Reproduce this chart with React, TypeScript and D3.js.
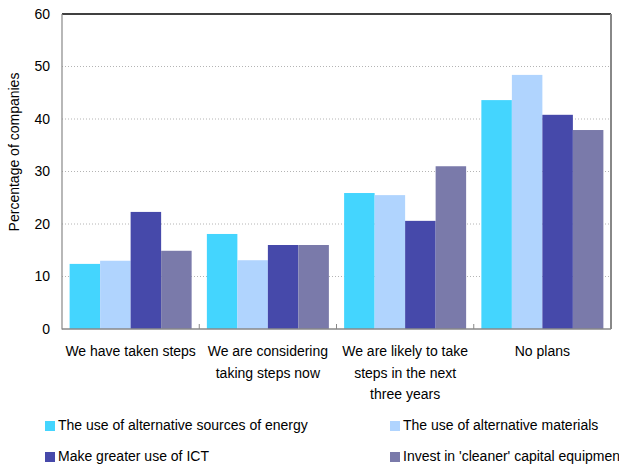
import React from "react";
import * as d3 from "d3";

// Survey categories (x axis) and their wrapped label lines
const categories = ["taken", "considering", "likely", "none"];
const categoryLabels = [
  ["We have taken steps"],
  ["We are considering", "taking steps now"],
  ["We are likely to take", "steps in the next", "three years"],
  ["No plans"],
];

// Series names, in legend order
const seriesNames = [
  "The use of alternative sources of energy",
  "The use of alternative materials",
  "Make greater use of ICT",
  "Invest in 'cleaner' capital equipment",
];

// Percentage of companies per series, one value per category
const energyValues = [12.4, 18.1, 25.9, 43.6];
const materialsValues = [13.0, 13.1, 25.5, 48.4];
const ictValues = [22.3, 16.0, 20.6, 40.8];
const equipmentValues = [14.9, 16.0, 31.0, 37.9];

const yTicks = [0, 10, 20, 30, 40, 50, 60];

const seriesValues = [energyValues, materialsValues, ictValues, equipmentValues];
const colors = ["#44D5FE", "#B0D4FE", "#4649AA", "#7A7AAA"];

const W = 619;
const H = 464;
const left = 62;
const right = 611;
const top = 14;
const bottom = 329;
const font = "'Liberation Sans', Arial, sans-serif";

export default function App() {
  const x0 = d3
    .scaleBand<string>()
    .domain(categories)
    .range([left, right])
    .paddingInner(0.111)
    .paddingOuter(0.0555);
  const x1 = d3
    .scaleBand<number>()
    .domain(d3.range(seriesNames.length))
    .range([0, x0.bandwidth()]);
  const y = d3.scaleLinear().domain([0, 60]).range([bottom, top]);
  const step = x0.step();
  const boundaries = d3.range(1, categories.length).map((i) => left + i * step);

  const legendItems = [
    { x: 45, y: 421 },
    { x: 390, y: 421 },
    { x: 45, y: 452 },
    { x: 390, y: 452 },
  ];

  return (
    <svg
      width={W}
      height={H}
      style={{ position: "fixed", left: 0, top: 0, display: "block", background: "#fff" }}
      fontFamily={font}
    >
      {/* dotted gridlines */}
      {yTicks
        .filter((t) => t > 0 && t < 60)
        .map((t) => (
          <line
            key={t}
            x1={left}
            x2={right}
            y1={y(t)}
            y2={y(t)}
            stroke="#b4b4b4"
            strokeWidth={1}
            strokeDasharray="1 2"
          />
        ))}

      {/* bars */}
      {categories.map((c, ci) => (
        <g key={c} transform={`translate(${x0(c)},0)`}>
          {seriesValues.map((vals, si) => (
            <rect
              key={si}
              x={x1(si)}
              y={y(vals[ci])}
              width={x1.bandwidth()}
              height={bottom - y(vals[ci])}
              fill={colors[si]}
            />
          ))}
        </g>
      ))}

      {/* frame */}
      <line x1={left} x2={right} y1={top} y2={top} stroke="#000" strokeWidth={1.5} />
      <line x1={right} x2={right} y1={top} y2={bottom} stroke="#888" strokeWidth={2} />
      <line x1={left} x2={left} y1={top} y2={bottom + 0.5} stroke="#888" strokeWidth={1.2} />
      <line x1={left} x2={right} y1={bottom} y2={bottom} stroke="#888" strokeWidth={1.5} />
      {boundaries.map((b, i) => (
        <line key={i} x1={b} x2={b} y1={bottom} y2={bottom - 5} stroke="#888" strokeWidth={1} />
      ))}

      {/* y tick labels */}
      {yTicks.map((t) => (
        <text
          key={t}
          x={50}
          y={y(t)}
          dy="0.35em"
          textAnchor="end"
          fontSize={14}
          fill="#000"
        >
          {t}
        </text>
      ))}

      {/* y axis title */}
      <text
        transform={`translate(19,152) rotate(-90)`}
        textAnchor="middle"
        fontSize={14}
        fill="#000"
      >
        Percentage of companies
      </text>

      {/* category labels */}
      {categories.map((c, ci) => (
        <text
          key={c}
          x={(x0(c) ?? 0) + x0.bandwidth() / 2}
          y={356}
          textAnchor="middle"
          fontSize={14}
          fill="#000"
        >
          {categoryLabels[ci].map((line, li) => (
            <tspan key={li} x={(x0(c) ?? 0) + x0.bandwidth() / 2} dy={li === 0 ? 0 : 21.5}>
              {line}
            </tspan>
          ))}
        </text>
      ))}

      {/* legend */}
      {seriesNames.map((name, si) => (
        <g key={name} transform={`translate(${legendItems[si].x},${legendItems[si].y})`}>
          <rect x={0} y={0} width={10} height={10} fill={colors[si]} />
          <text x={13} y={9} fontSize={14} fill="#000">
            {name}
          </text>
        </g>
      ))}
    </svg>
  );
}
